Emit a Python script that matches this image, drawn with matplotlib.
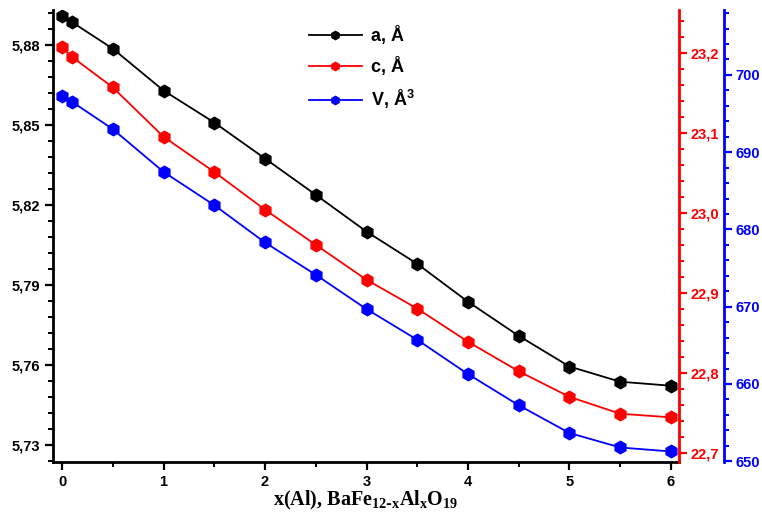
import matplotlib
matplotlib.use("Agg")
import matplotlib.pyplot as plt
from matplotlib.ticker import MultipleLocator, FuncFormatter
from matplotlib.lines import Line2D

x = [0, 0.1, 0.5, 1, 1.5, 2, 2.5, 3, 3.5, 4, 4.5, 5, 5.5, 6]
a_vals = [5.8909, 5.8885, 5.8786, 5.8629, 5.8509, 5.8374, 5.8238, 5.8100,
          5.7979, 5.7837, 5.7709, 5.7594, 5.7537, 5.7522]
c_vals = [23.2071, 23.1947, 23.1568, 23.0951, 23.0511, 23.0039, 22.9600,
          22.9164, 22.8803, 22.8389, 22.8020, 22.7700, 22.7489, 22.7444]
v_vals = [697.28, 696.51, 692.98, 687.45, 683.14, 678.31, 674.13, 669.69,
          665.72, 661.28, 657.24, 653.65, 651.78, 651.26]
labels = ["a, Å", "c, Å", "V, Å$^{3}$"]
colors = ["black", "#ff0000", "#0000ff"]

plt.rcParams['font.family'] = ['Liberation Sans', 'DejaVu Sans']
plt.rcParams['font.weight'] = 'bold'
plt.rcParams['mathtext.default'] = 'regular'

fig = plt.figure(figsize=(7.62, 5.25), dpi=100)
ax = fig.add_axes([52.7/762, 1-462/525, (679-52.7)/762, (462-10)/525])
ax2 = ax.twinx()
ax3 = ax.twinx()
ax3.spines['right'].set_position(('outward', 45*0.72))

ms = 9
lw = 1.3
ax.plot(x, a_vals, color=colors[0], marker='h', ms=ms, lw=lw, zorder=3)
ax2.plot(x, c_vals, color=colors[1], marker='h', ms=ms, lw=lw, zorder=3)
ax3.plot(x, v_vals, color=colors[2], marker='h', ms=ms, lw=lw, zorder=3)

ax.set_xlim(-0.092, 6.079)
ax.set_ylim(5.7236, 5.8931)
ax2.set_ylim(22.6886, 23.2535)
ax3.set_ylim(649.9, 708.4)

for a_ in (ax, ax2, ax3):
    a_.spines['top'].set_visible(False)
ax.spines['right'].set_visible(False)
ax3.spines['left'].set_visible(False)
ax2.spines['left'].set_visible(False)
ax3.spines['bottom'].set_visible(False)
ax2.spines['bottom'].set_visible(False)

ax.spines['left'].set_linewidth(2)
ax.spines['bottom'].set_linewidth(2)
ax2.spines['right'].set_linewidth(2)
ax2.spines['right'].set_color(colors[1])
ax3.spines['right'].set_linewidth(2)
ax3.spines['right'].set_color(colors[2])

ax.xaxis.set_major_locator(MultipleLocator(1))
ax.xaxis.set_minor_locator(MultipleLocator(0.5))
ax.yaxis.set_major_locator(MultipleLocator(0.03))
ax.yaxis.set_minor_locator(MultipleLocator(0.006))
ax.yaxis.set_major_formatter(FuncFormatter(lambda v, p: f"{v:.2f}".replace('.', ',')))
ax2.yaxis.set_major_locator(MultipleLocator(0.1))
ax2.yaxis.set_minor_locator(MultipleLocator(0.02))
ax2.yaxis.set_major_formatter(FuncFormatter(lambda v, p: f"{v:.1f}".replace('.', ',')))
ax3.yaxis.set_major_locator(MultipleLocator(10))
ax3.yaxis.set_minor_locator(MultipleLocator(2))
ax3.yaxis.set_major_formatter(FuncFormatter(lambda v, p: f"{v:.0f}"))

fs = 10.5
ax.tick_params(axis='both', which='major', direction='out', length=6, width=1.6,
               labelsize=fs, pad=3)
ax.tick_params(axis='both', which='minor', direction='out', length=3.5, width=1.4)
ax2.tick_params(axis='y', which='major', direction='out', length=6, width=1.6,
                labelsize=fs, colors=colors[1], pad=2)
ax2.tick_params(axis='y', which='minor', direction='out', length=3.5, width=1.4,
                colors=colors[1])
ax3.tick_params(axis='y', which='major', direction='out', length=6, width=1.6,
                labelsize=fs, colors=colors[2], pad=2)
ax3.tick_params(axis='y', which='minor', direction='out', length=3.5, width=1.4,
                colors=colors[2])
for lab in ax.get_xticklabels() + ax.get_yticklabels() + ax2.get_yticklabels() + ax3.get_yticklabels():
    lab.set_fontweight('bold')

ax.set_xlabel("x(Al), BaFe$_{12\\text{-}x}$Al$_{x}$O$_{19}$",
              fontsize=14.5, fontweight='bold', family=['Liberation Serif'], labelpad=0)

handles = [Line2D([], [], color=c, marker='h', ms=6, lw=lw) for c in colors]
fig.legend(handles, labels, loc='upper left', bbox_to_anchor=(293/762, 1-10/525),
           frameon=False, prop={'size': 13, 'weight': 'bold'},
           handlelength=2.9, labelspacing=0.65, handletextpad=0.5)

fig.savefig("out.png", dpi=100)
